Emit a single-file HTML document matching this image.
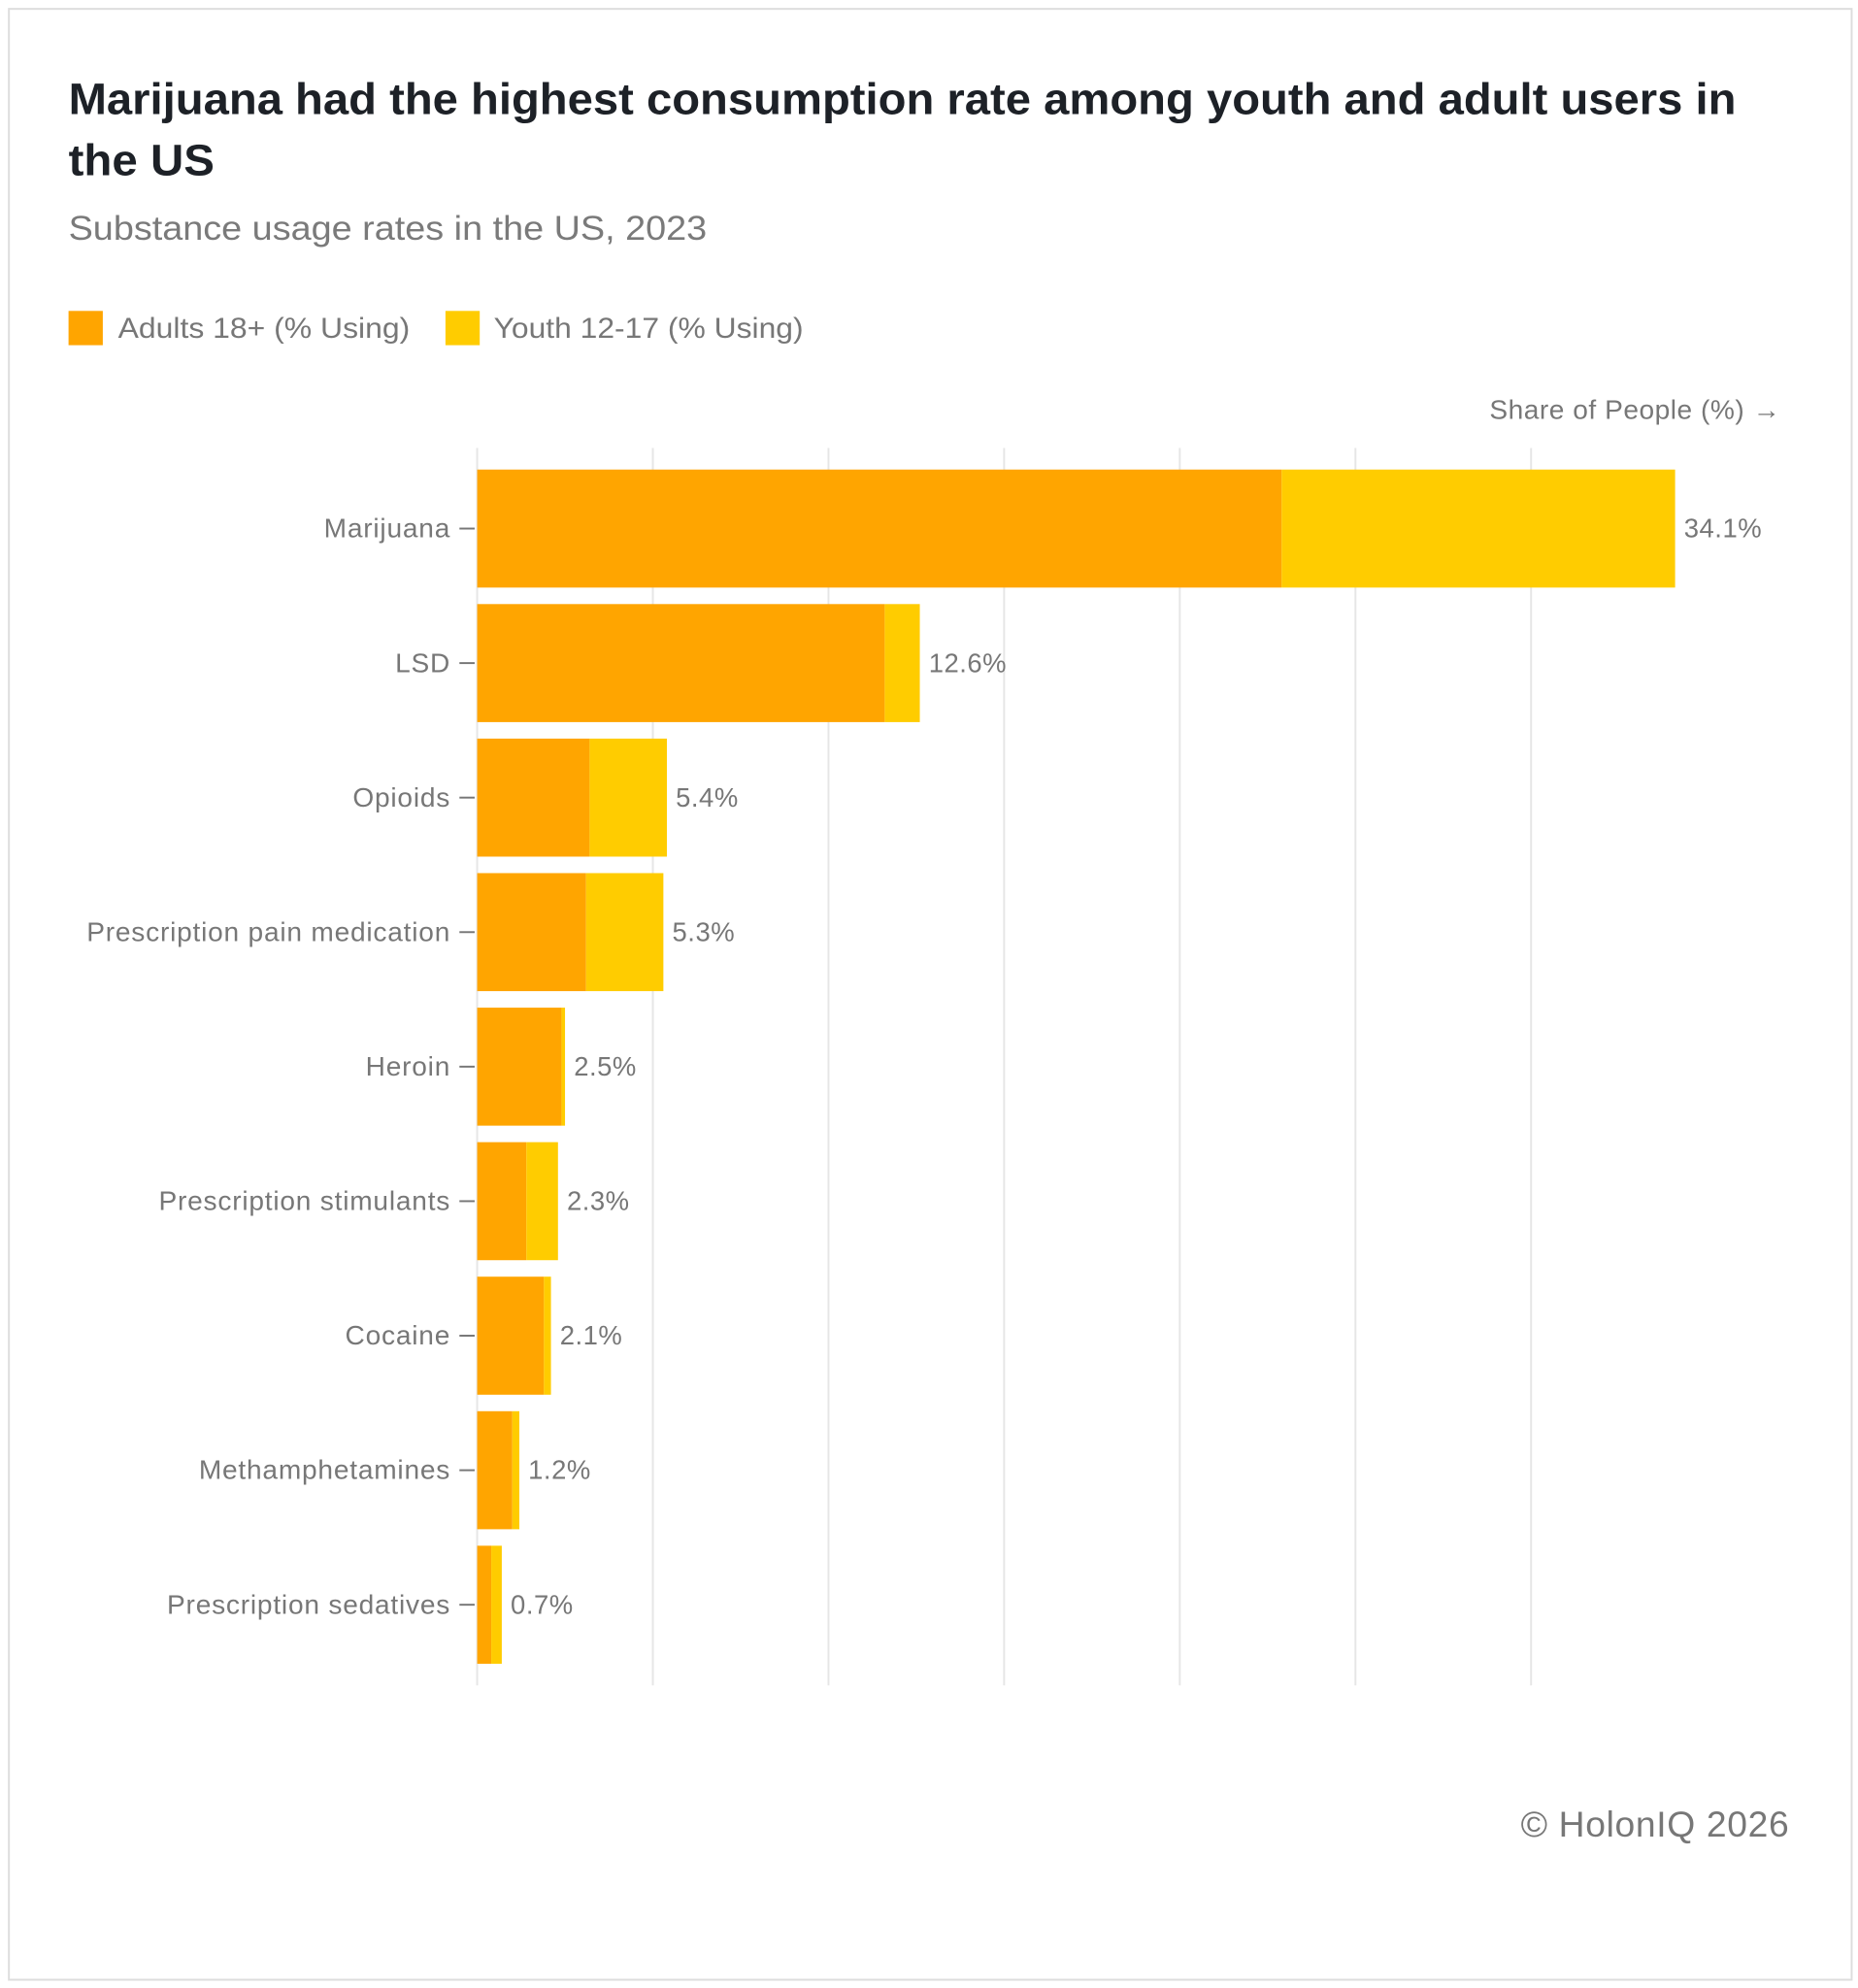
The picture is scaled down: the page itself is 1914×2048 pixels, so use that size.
<!DOCTYPE html>
<html><head><meta charset="utf-8">
<style>
html,body{margin:0;padding:0;background:#fff;}
svg{display:block;font-family:"Liberation Sans",sans-serif;}
</style></head>
<body>
<svg id="chart" width="1914" height="2048" viewBox="0 0 1464 1566.5" xmlns="http://www.w3.org/2000/svg">
<rect x="7" y="7" width="1452" height="1553" fill="#fff" stroke="#ddd" stroke-width="1.5"/>
<text x="54" y="90" font-size="35" font-weight="bold" fill="#1d2127" textLength="1314" lengthAdjust="spacingAndGlyphs">Marijuana had the highest consumption rate among youth and adult users in</text>
<text x="54" y="138" font-size="35" font-weight="bold" fill="#1d2127" textLength="115" lengthAdjust="spacingAndGlyphs">the US</text>
<text x="54" y="189" font-size="27" fill="#7a7a7a" textLength="503" lengthAdjust="spacingAndGlyphs">Substance usage rates in the US, 2023</text>
<g>
<rect x="54" y="245" width="27" height="27" fill="#FFA500"/>
<text x="93" y="266" font-size="22.5" fill="#777" textLength="230" lengthAdjust="spacingAndGlyphs">Adults 18+ (% Using)</text>
<rect x="351" y="245" width="27" height="27" fill="#FFCC00"/>
<text x="389" y="266" font-size="22.5" fill="#777" textLength="244" lengthAdjust="spacingAndGlyphs">Youth 12-17 (% Using)</text>
</g>
<text x="1403" y="330" font-size="21.5" fill="#777" text-anchor="end" letter-spacing="0.4">Share of People (%) →</text>
<g id="grid"></g>
<g id="bars"></g>
<text x="1410" y="1447" font-size="28.5" fill="#777" text-anchor="end" letter-spacing="0.5">© HolonIQ 2026</text>
</svg>
<script>
const categories = ["Marijuana","LSD","Opioids","Prescription pain medication","Heroin","Prescription stimulants","Cocaine","Methamphetamines","Prescription sedatives"];
const adults = [22.9,11.6,3.2,3.1,2.4,1.4,1.9,1.0,0.4];
const youth = [11.2,1.0,2.2,2.2,0.1,0.9,0.2,0.2,0.3];
const totalLabels = ["34.1%","12.6%","5.4%","5.3%","2.5%","2.3%","2.1%","1.2%","0.7%"];
const gridTicks = [0,5,10,15,20,25,30];

const NS="http://www.w3.org/2000/svg";
const x0=376, pxPer=27.68;
const xScale=v=>x0+v*pxPer;
const yTop=370, step=106, barH=93;
const yScale=i=>yTop+i*step;
function mk(tag,attrs,parent){const e=document.createElementNS(NS,tag);for(const k in attrs)e.setAttribute(k,attrs[k]);parent.appendChild(e);return e;}
const grid=document.getElementById('grid'), bars=document.getElementById('bars');
gridTicks.forEach(t=>{
  const l=mk('line',{x1:xScale(t),x2:xScale(t),y1:353,y2:1328,stroke:'#e6e6e6','stroke-width':1.5},grid);
  
  
});
categories.forEach((c,i)=>{
  const y=yScale(i), cy=y+barH/2;
  const a=mk('rect',{x:xScale(0),y:y,width:xScale(adults[i])-xScale(0),height:barH,fill:'#FFA500'},bars);
  
  
  const yb=mk('rect',{x:xScale(adults[i]),y:y,width:xScale(adults[i]+youth[i])-xScale(adults[i]),height:barH,fill:'#FFCC00'},bars);
  
  
  const tk=mk('line',{x1:362,x2:374,y1:cy,y2:cy,stroke:'#777','stroke-width':1.5},bars);
  
  
  const lb=mk('text',{x:355,y:cy+7,'font-size':21.5,fill:'#777','text-anchor':'end','letter-spacing':0.6},bars);
  lb.textContent=c;
  
  
  const vl=mk('text',{x:xScale(adults[i]+youth[i])+7,y:cy+7,'font-size':21,fill:'#777','letter-spacing':0.4},bars);
  vl.textContent=totalLabels[i];
  
  
});
</script>
</body></html>
